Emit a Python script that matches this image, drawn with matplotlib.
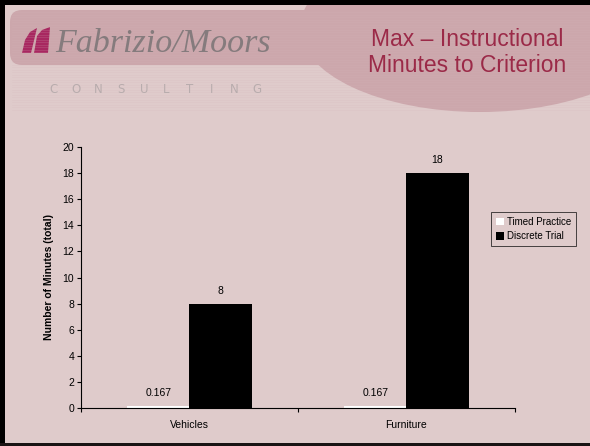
import matplotlib
matplotlib.use("Agg")
import matplotlib.pyplot as plt
import numpy as np
from matplotlib.patches import Ellipse, FancyBboxPatch, Rectangle, Polygon, Patch

# chart data
categories = ["Vehicles", "Furniture"]
timed_practice = [0.167, 0.167]
discrete_trial = [8, 18]
series_names = ["Timed Practice", "Discrete Trial"]
y_ticks = list(range(0, 21, 2))

BG = "#dfcbcb"
HEADER = "#cca7ac"
TITLE_RED = "#9b2a48"
LOGO_GRAY = "#857b7d"
LOGO_MAGENTA = "#a82760"

fig = plt.figure(figsize=(5.9, 4.46), dpi=100)
fig.patch.set_facecolor(BG)

# slide background, drawn in pixel space
bg = fig.add_axes([0, 0, 1, 1], zorder=0)
bg.set_xlim(0, 590)
bg.set_ylim(446, 0)
bg.axis("off")

bg.add_patch(Ellipse((480, 28), 360, 168, facecolor=HEADER, edgecolor="none"))
bg.add_patch(FancyBboxPatch((10, 10), 600, 55, boxstyle="round,pad=0,rounding_size=12",
                            facecolor=HEADER, edgecolor="none"))
# faint horizontal stripes on the header band
for yy in np.arange(12, 112, 2.5):
    bg.axhline(yy, xmin=0.02, xmax=1, color="#d6b7bb", lw=0.4, alpha=0.3)

# frame edges
bg.add_patch(Rectangle((0, 0), 590, 5, facecolor="black", edgecolor="none"))
bg.add_patch(Rectangle((0, 0), 5, 446, facecolor="black", edgecolor="none"))
bg.add_patch(Rectangle((0, 443), 590, 3, facecolor="#1a1414", edgecolor="none"))

# logo mark
bg.add_patch(Polygon([[22, 53], [25, 40], [30, 32], [37, 28], [31, 53]],
                     facecolor=LOGO_MAGENTA, edgecolor="none"))
bg.add_patch(Polygon([[34, 53], [37, 36], [42, 30], [50, 27], [48, 53]],
                     facecolor=LOGO_MAGENTA, edgecolor="none"))
bg.text(55, 52, "Fabrizio/Moors", fontsize=24.5, family="Liberation Serif", style="italic",
        color=LOGO_GRAY, ha="left", va="baseline")
for i, ch in enumerate("CONSULTING"):
    bg.text(53 + i * 22.7, 93, ch, fontsize=8.5, family="DejaVu Sans", color="#b8acad",
            ha="center", va="baseline")

bg.text(467, 46, "Max \u2013 Instructional", fontsize=16.5, family="Liberation Sans",
        color=TITLE_RED, ha="center", va="baseline")
bg.text(467, 72, "Minutes to Criterion", fontsize=16.5, family="Liberation Sans",
        color=TITLE_RED, ha="center", va="baseline")

# bar chart
ax = fig.add_axes([81 / 590, 1 - 408 / 446, 434 / 590, 261 / 446], zorder=1)
ax.set_facecolor("none")
x = np.arange(len(categories))
w = 0.286
b1 = ax.bar(x - w / 2, timed_practice, w, color="white", edgecolor="none")
b2 = ax.bar(x + w / 2, discrete_trial, w, color="black", edgecolor="none")

for bars, vals in ((b1, timed_practice), (b2, discrete_trial)):
    for bar, v in zip(bars, vals):
        ax.text(bar.get_x() + bar.get_width() / 2, v + 0.6, f"{v:g}",
                ha="center", va="bottom", fontsize=7.5, family="Liberation Sans")

ax.set_xlim(-0.5, len(categories) - 0.5)
ax.set_ylim(0, 20)
ax.set_yticks(y_ticks)
ax.tick_params(axis="y", labelsize=7.5, length=3, width=0.8, pad=2)
ax.set_xticks(x)
ax.set_xticklabels(categories, fontsize=7.5, family="Liberation Sans")
ax.set_xticks(np.arange(len(categories) + 1) - 0.5, minor=True)
ax.tick_params(axis="x", which="major", length=0, pad=9)
ax.tick_params(axis="x", which="minor", length=3, width=0.8)
for lbl in ax.get_yticklabels():
    lbl.set_family("Liberation Sans")
for side in ("top", "right"):
    ax.spines[side].set_visible(False)
ax.spines["left"].set_linewidth(0.8)
ax.spines["bottom"].set_linewidth(0.8)
ax.set_ylabel("Number of Minutes (total)", fontsize=7.5, fontweight="bold",
              family="Liberation Sans", labelpad=6)

handles = [Patch(facecolor="white", edgecolor="none"), Patch(facecolor="black", edgecolor="none")]
leg = ax.legend(handles, series_names, loc="upper left", bbox_to_anchor=(0.945, 0.75),
                frameon=True, fancybox=False, handlelength=0.8, handleheight=0.8,
                handletextpad=0.3, borderpad=0.5, labelspacing=0.45, borderaxespad=0,
                prop={"family": "Liberation Sans", "size": 7})
leg.get_frame().set_edgecolor("black")
leg.get_frame().set_linewidth(0.6)
leg.get_frame().set_facecolor(BG)

fig.savefig("out.png", dpi=100, facecolor=fig.get_facecolor())
